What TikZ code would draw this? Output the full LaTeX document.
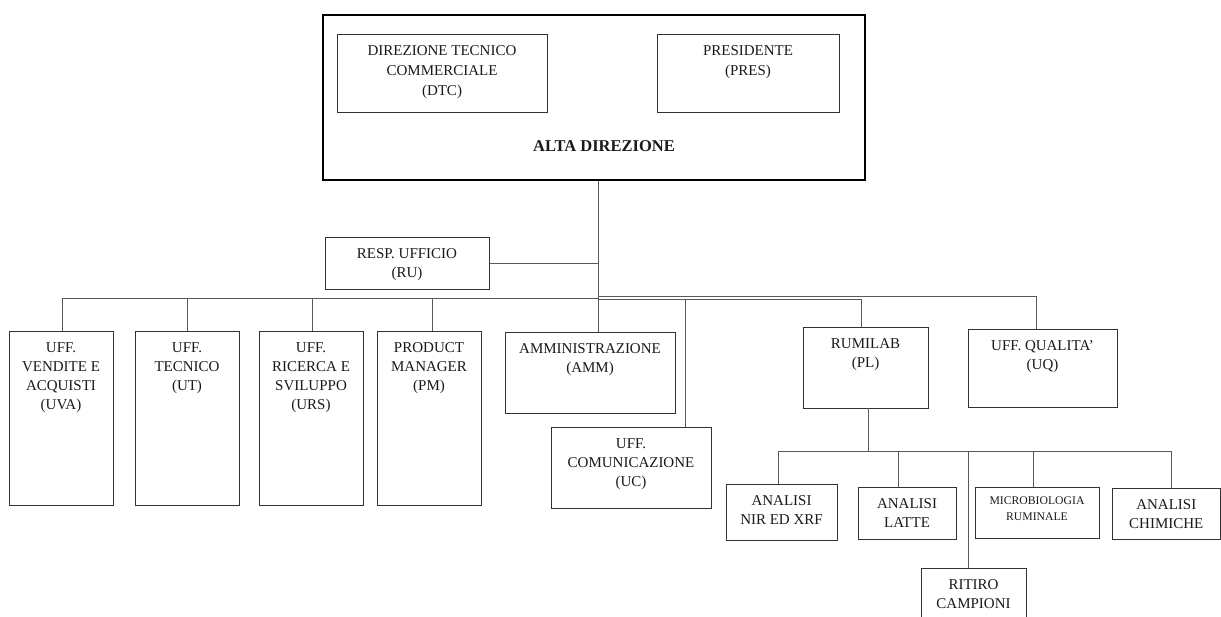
\documentclass[tikz,border=0pt]{standalone}
\usepackage{fontspec}
\setmainfont{Liberation Serif}
\usetikzlibrary{fit}
\tikzset{
  box/.style={draw=black!80, line width=0.9pt, inner sep=0pt},
  lbl/.style={anchor=north, align=center, inner sep=0pt, font=\fontsize{15}{19}\selectfont, text=black!90},
  conn/.style={draw=black!65, line width=0.9pt},
}
\newcommand\orgbox[7][]{%
  \path (#3,#4) coordinate (#2-a) (#5,#6) coordinate (#2-b);
  \node[box, fit=(#2-a)(#2-b)] (#2) {};
  \node[lbl,#1] (#2-t) at ([yshift=-12pt]#2.north) {#7};
}
\begin{document}
\begin{tikzpicture}[x=1pt,y=-1pt]
\useasboundingbox (0,0) rectangle (1221,617);
\clip (0,0) rectangle (1221,617);
% top management
\path (323,15) coordinate (alta-a) (865,180) coordinate (alta-b);
\node[draw=black, line width=2.4pt, inner sep=0pt, fit=(alta-a)(alta-b)] (alta) {};
\orgbox[font=\fontsize{15}{20}\selectfont]{dtc}{337}{34}{547}{112}{DIREZIONE TECNICO\\COMMERCIALE\\(DTC)}
\orgbox[font=\fontsize{15}{20}\selectfont]{pres}{657}{34}{839}{112}{PRESIDENTE\\(PRES)}
\node[anchor=base, inner sep=0pt, font=\bfseries\fontsize{16.5}{20}\selectfont, text=black!90] (altalbl) at (604,152) {ALTA DIREZIONE};
% staff
\orgbox{ru}{325}{237}{489}{289}{RESP. UFFICIO\\(RU)}
% offices
\orgbox{uva}{9}{331}{113}{505}{UFF.\\VENDITE E\\ACQUISTI\\(UVA)}
\orgbox{ut}{135}{331}{239}{505}{UFF.\\TECNICO\\(UT)}
\orgbox{urs}{259}{331}{363}{505}{UFF.\\RICERCA E\\SVILUPPO\\(URS)}
\orgbox{pm}{377}{331}{481}{505}{PRODUCT\\MANAGER\\(PM)}
\orgbox{amm}{505}{332}{675}{413}{AMMINISTRAZIONE\\(AMM)}
\orgbox{uc}{551}{427}{711}{508}{UFF.\\COMUNICAZIONE\\(UC)}
\orgbox{pl}{803}{327}{928}{408}{RUMILAB\\(PL)}
\orgbox{uq}{968}{329}{1117}{407}{UFF. QUALITA’\\(UQ)}
% lab units
\orgbox[font=\fontsize{15}{18.5}\selectfont]{nir}{726}{484}{837}{540}{ANALISI\\NIR ED XRF}
\orgbox[font=\fontsize{15}{18.5}\selectfont]{latte}{858}{487}{956}{539}{ANALISI\\LATTE}
\orgbox[font=\fontsize{11.7}{16}\selectfont, yshift=2pt]{micro}{975}{487}{1099}{538}{MICROBIOLOGIA\\RUMINALE}
\orgbox[font=\fontsize{15}{18.5}\selectfont]{chim}{1112}{488}{1220.5}{539}{ANALISI\\CHIMICHE}
\orgbox[font=\fontsize{15}{18.5}\selectfont]{rit}{921}{568}{1026}{640}{RITIRO\\CAMPIONI}
% connectors
\coordinate (m) at (598.5,298);
\draw[conn] (alta.south -| m) -- (amm.north -| m);
\draw[conn] (ru.east) -- (ru.east -| m);
\coordinate (bl) at (62,298);
\coordinate (but) at (187,298);
\coordinate (burs) at (312,298);
\coordinate (bpm) at (432,298);
\draw[conn] (bl) -- (m);
\draw[conn] (bl) -- (uva.north -| bl);
\draw[conn] (but) -- (ut.north -| but);
\draw[conn] (burs) -- (urs.north -| burs);
\draw[conn] (bpm) -- (pm.north -| bpm);
\coordinate (r1) at (598.5,296);
\coordinate (buq) at (1036,296);
\draw[conn] (r1) -- (buq) -- (uq.north -| buq);
\coordinate (r2) at (598.5,299);
\coordinate (bpl) at (861,299);
\draw[conn] (r2) -- (bpl) -- (pl.north -| bpl);
\coordinate (buc) at (685,299);
\draw[conn] (buc) -- (uc.north -| buc);
\coordinate (s) at (868,451);
\draw[conn] (pl.south -| s) -- (s);
\coordinate (s1) at (778,451);
\coordinate (s2) at (898,451);
\coordinate (s3) at (968,451);
\coordinate (s4) at (1033,451);
\coordinate (s5) at (1171,451);
\draw[conn] (s1) -- (s5);
\draw[conn] (s1) -- (nir.north -| s1);
\draw[conn] (s2) -- (latte.north -| s2);
\draw[conn] (s3) -- (rit.north -| s3);
\draw[conn] (s4) -- (micro.north -| s4);
\draw[conn] (s5) -- (chim.north -| s5);
\end{tikzpicture}
\end{document}
